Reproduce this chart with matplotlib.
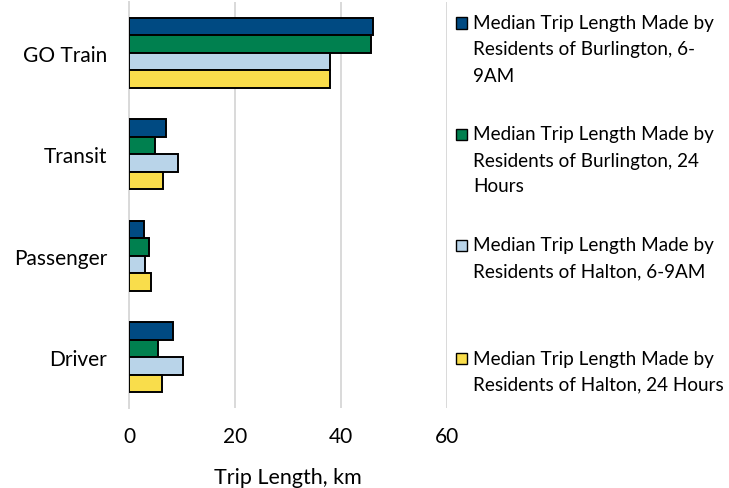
import matplotlib
matplotlib.use("Agg")
import matplotlib.pyplot as plt
from matplotlib.patches import Rectangle
import numpy as np

plt.rcParams['font.family'] = ['Lato', 'DejaVu Sans']

# Travel modes (top to bottom) and median trip lengths in km
modes = ["GO Train", "Transit", "Passenger", "Driver"]
burlington_am = [46.0, 6.9, 2.8, 8.3]
burlington_24h = [45.6, 4.8, 3.8, 5.4]
halton_am = [37.9, 9.2, 3.0, 10.2]
halton_24h = [37.9, 6.4, 4.1, 6.2]

series_labels = [
    ["Median Trip Length Made by", "Residents of Burlington, 6-", "9AM"],
    ["Median Trip Length Made by", "Residents of Burlington, 24", "Hours"],
    ["Median Trip Length Made by", "Residents of Halton, 6-9AM"],
    ["Median Trip Length Made by", "Residents of Halton, 24 Hours"],
]
series_values = [burlington_am, burlington_24h, halton_am, halton_24h]
colors = ["#004A82", "#00804F", "#B9D4E9", "#F9DD4B"]

x_ticks = [0, 20, 40, 60]

W, H = 729, 489
fig = plt.figure(figsize=(W / 100, H / 100), dpi=100)
ax = fig.add_axes([129.3 / W, 1 - 409 / H, (446.7 - 129.3) / W, 406 / H])

pos = np.arange(len(modes))
bar_h = 0.172
for k, (vals, col) in enumerate(zip(series_values, colors)):
    ax.barh(pos + (k - 1.5) * bar_h, vals, height=bar_h, color=col,
            edgecolor="black", linewidth=1.4, zorder=3)

ax.set_ylim(len(modes) - 0.5, -0.5)
ax.set_xlim(0, 60)
ax.set_xticks(x_ticks)
ax.set_yticks(pos)
ax.set_yticklabels(modes)
ax.tick_params(axis="both", length=0, labelsize=15, colors="black")
ax.tick_params(axis="x", pad=13)
ax.tick_params(axis="y", pad=16)
ax.xaxis.grid(True, color="#D9D9D9", linewidth=1.4, zorder=0)
ax.set_axisbelow(True)
for s in ["top", "right", "bottom"]:
    ax.spines[s].set_visible(False)
ax.spines["left"].set_color("#D9D9D9")
ax.spines["left"].set_linewidth(1.4)
ax.set_xlabel("Trip Length, km", fontsize=15.5, labelpad=15)

# Legend drawn as wrapped text entries beside the plot
entry_tops = [24, 135, 246, 359]
line_step = 26
for lines, col, y0 in zip(series_labels, colors, entry_tops):
    fig.patches.append(Rectangle((456 / W, 1 - (y0 + 5.5) / H), 11 / W, 11 / H,
                                 transform=fig.transFigure, facecolor=col,
                                 edgecolor="black", linewidth=1.0))
    for i, line in enumerate(lines):
        fig.text(473 / W, 1 - (y0 + i * line_step) / H, line, fontsize=13.6,
                 ha="left", va="center")

fig.savefig("out.png", dpi=100)
